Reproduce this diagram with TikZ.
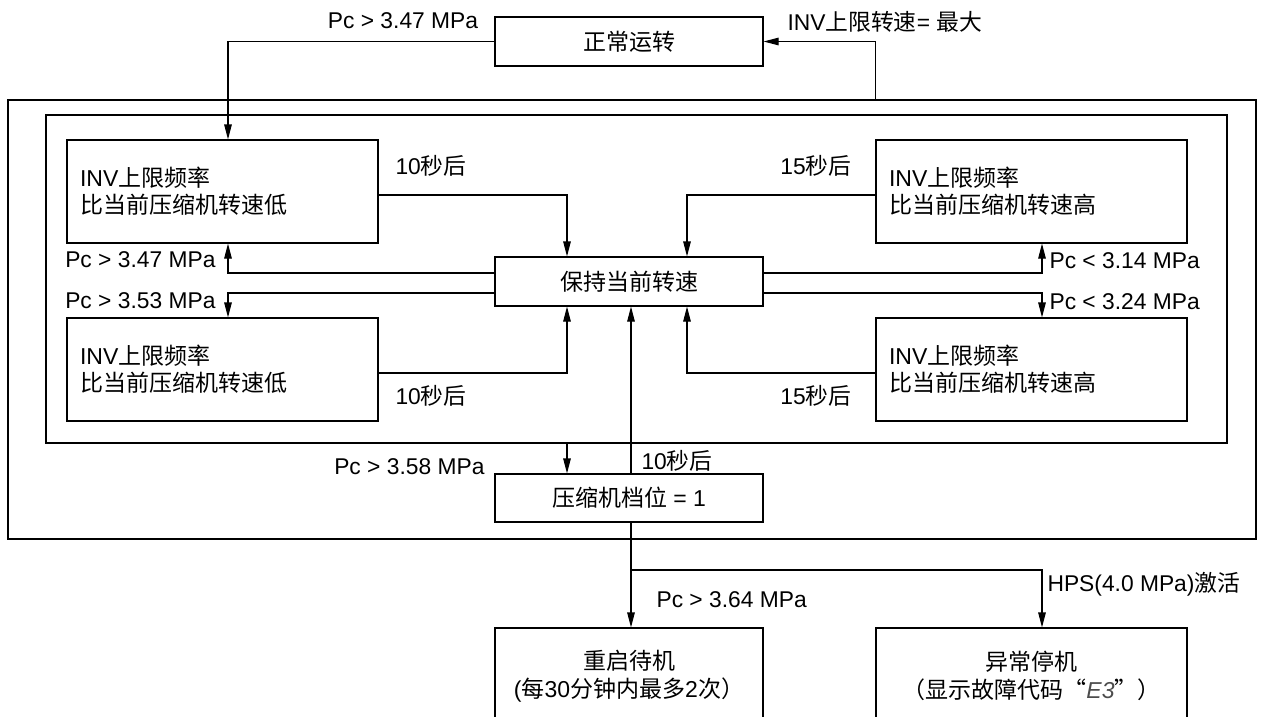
\documentclass[tikz,border=0pt]{standalone}
\usepackage{fontspec}
\setmainfont{Liberation Sans}
\newfontfamily\cjk{Noto Sans CJK SC}
\usetikzlibrary{arrows.meta}
\newcommand\zh[1]{{\cjk #1}}
\begin{document}
\begin{tikzpicture}[x=1pt,y=-1pt, line width=1.1pt,
  box/.style={draw, inner sep=0pt, minimum width=268pt, align=center, font=\fontsize{23}{28}\selectfont},
  sbox/.style={draw, inner sep=0pt, minimum width=311pt, minimum height=103pt, text width=285pt, align=left, font=\fontsize{23}{27}\selectfont},
  lbl/.style={inner sep=0pt, font=\fontsize{22.8}{27}\selectfont},
  arr/.style={-{Triangle[length=15pt,width=7.5pt]}},
  frame/.style={draw, inner sep=0pt}]
\useasboundingbox (0,0) rectangle (1264,716);
% frames
\node[frame, minimum width=1248pt, minimum height=439pt] (outer) at (632,319.5) {};
\node[frame, minimum width=1181pt, minimum height=328pt] (inner) at (636.5,279) {};
% boxes
\node[box, minimum height=49pt] (normal) at (629,41.5) {\zh{正常运转}};
\node[sbox] (tl) at (222.5,191.5) {INV\zh{上限频率}\\\zh{比当前压缩机转速低}};
\node[sbox] (tr) at (1031.5,191.5) {INV\zh{上限频率}\\\zh{比当前压缩机转速高}};
\node[sbox] (bl) at (222.5,369.5) {INV\zh{上限频率}\\\zh{比当前压缩机转速低}};
\node[sbox] (br) at (1031.5,369.5) {INV\zh{上限频率}\\\zh{比当前压缩机转速高}};
\node[box, minimum height=49pt] (hold) at (629,281.5) {\zh{保持当前转速}};
\node[box, minimum height=48pt] (gear) at (629,498) {\zh{压缩机档位} = 1};
\node[box, minimum height=96pt] (restart) at (629,676) {\zh{重启待机}\\(\zh{每}30\zh{分钟内最多}2\zh{次）}};
\node[box, minimum width=311pt, minimum height=96pt] (stop) at (1031.5,676) {\zh{异常停机}\\\zh{（显示故障代码“}{\itshape\color{black!70}E3}\zh{”）}};
% helper coordinates
\coordinate (xL) at (228,0);
\coordinate (xA) at (567,0);
\coordinate (xM) at (631,0);
\coordinate (xB) at (687,0);
\coordinate (xR) at (1042,0);
\coordinate (yTop) at (0,195);
\coordinate (yUp) at (0,273);
\coordinate (yDn) at (0,293);
\coordinate (yBot) at (0,373);
\coordinate (yBr) at (0,570);
% connectors
\draw[arr] (outer.north -| tr.west) |- (normal.east);
\draw[arr] (normal.west) -| (tl.north -| xL);
\draw[arr] (tl.east |- yTop) -| (hold.north -| xA);
\draw[arr] (tr.west |- yTop) -| (hold.north -| xB);
\draw[arr] (hold.west |- yUp) -| (tl.south -| xL);
\draw[arr] (hold.west |- yDn) -| (bl.north -| xL);
\draw[arr] (hold.east |- yUp) -| (tr.south -| xR);
\draw[arr] (hold.east |- yDn) -| (br.north -| xR);
\draw[arr] (bl.east |- yBot) -| (hold.south -| xA);
\draw[arr] (br.west |- yBot) -| (hold.south -| xB);
\draw[arr] (gear.north -| xM) -- (hold.south -| xM);
\draw[arr] (inner.south -| xA) -- (gear.north -| xA);
\draw[arr] (gear.south -| xM) -- (restart.north -| xM);
\draw[arr] (xM |- yBr) -| (stop.north -| xR);
% labels
\node[lbl] (t1) at (403,21) {Pc > 3.47 MPa};
\node[lbl, anchor=west] (t2) at (787,22) {INV\zh{上限转速}= \zh{最大}};
\node[lbl, anchor=west] (s1) at (395,166) {10\zh{秒后}};
\node[lbl, anchor=east] (s2) at (852,166) {15\zh{秒后}};
\node[lbl, anchor=east] (p1) at (216,260) {Pc > 3.47 MPa};
\node[lbl, anchor=east] (p2) at (216,301) {Pc > 3.53 MPa};
\node[lbl, anchor=west] (p3) at (1049,261) {Pc < 3.14 MPa};
\node[lbl, anchor=west] (p4) at (1049,302) {Pc < 3.24 MPa};
\node[lbl, anchor=west] (s3) at (395,396) {10\zh{秒后}};
\node[lbl, anchor=east] (s4) at (852,396) {15\zh{秒后}};
\node[lbl, anchor=east] (p5) at (485,467) {Pc > 3.58 MPa};
\node[lbl, anchor=west] (s5) at (641,461) {10\zh{秒后}};
\node[lbl, anchor=west] (p6) at (656,600) {Pc > 3.64 MPa};
\node[lbl, anchor=west] (p7) at (1047,584) {HPS(4.0 MPa)\zh{激活}};
\end{tikzpicture}
\end{document}
